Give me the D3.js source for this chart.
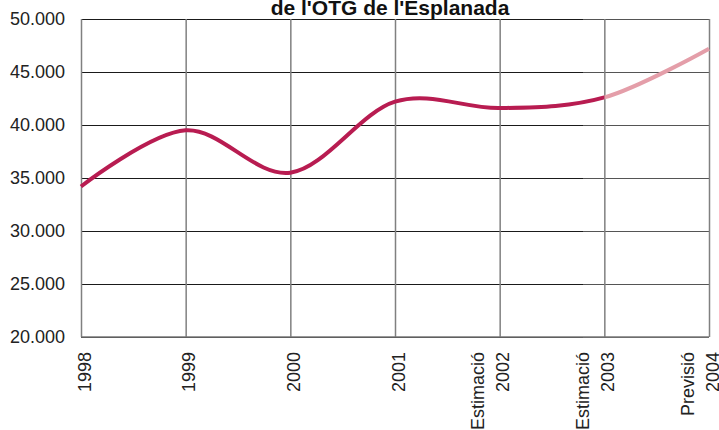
<!DOCTYPE html>
<html>
<head>
<meta charset="utf-8">
<script src="https://cdn.jsdelivr.net/npm/d3@7"></script>
<style>
  html, body { margin: 0; padding: 0; background: #fff; }
  svg { display: block; font-family: "Liberation Sans", Arial, Helvetica, sans-serif; }
</style>
</head>
<body>
<svg id="chart" width="719" height="430"></svg>
<script>
// Visitants a l'OTG de l'Esplanada, 1998-2004
const years = ["1998", "1999", "2000", "2001", "2002", "2003", "2004"];
const yearNotes = ["", "", "", "", "Estimació", "Estimació", "Previsió"];
const visitors = [34200, 39500, 35500, 42200, 41600, 42600, 47200];
const yTicks = [20000, 25000, 30000, 35000, 40000, 45000, 50000];
const forecastFrom = "2003";
const titleText = "de l'OTG de l'Esplanada";

const svg = d3.select("#chart");
const margin = { left: 81, right: 10, top: 19, bottom: 93 };
const W = 719, H = 430;
const innerW = W - margin.left - margin.right;
const innerH = H - margin.top - margin.bottom;

const x = d3.scalePoint().domain(years).range([0, innerW]);
const y = d3.scaleLinear().domain([20000, 50000]).range([innerH, 0]);

const caLocale = d3.formatLocale({ decimal: ",", thousands: ".", grouping: [3], currency: ["", " €"] });
const fmt = caLocale.format(",.0f");

const defs = svg.append("defs");
// gridlines fade from black to dark grey towards the right
const grad = defs.append("linearGradient").attr("id", "grid-stroke")
  .attr("gradientUnits", "userSpaceOnUse")
  .attr("x1", 0).attr("x2", innerW).attr("y1", 0).attr("y2", 0);
grad.append("stop").attr("offset", 0.8).attr("stop-color", "#1a1a1a");
grad.append("stop").attr("offset", 0.8).attr("stop-color", "#555");

const g = svg.append("g").attr("transform", `translate(${margin.left},${margin.top})`);

// horizontal gridlines + y labels
const yAxis = g.append("g")
  .call(d3.axisLeft(y).tickValues(yTicks).tickFormat(fmt).tickSize(-innerW).tickPadding(16));
yAxis.select(".domain").remove();
yAxis.selectAll(".tick line").attr("stroke", "url(#grid-stroke)").attr("stroke-width", 1);
yAxis.selectAll(".tick text")
  .attr("font-size", 18).attr("fill", "#222")
  .attr("font-family", "Liberation Sans, Arial, sans-serif");

// vertical gridlines
const xAxis = g.append("g").attr("transform", `translate(0,${innerH})`)
  .call(d3.axisBottom(x).tickSize(-innerH).tickFormat(""));
xAxis.select(".domain").remove();
xAxis.selectAll(".tick line").attr("stroke", "#808080").attr("stroke-width", 1.5);

// bottom axis line
g.append("line")
  .attr("x1", 0).attr("x2", innerW)
  .attr("y1", y(20000)).attr("y2", y(20000))
  .attr("stroke", "#777").attr("stroke-width", 1.5);

// rotated category labels (note above, year below)
const labels = xAxis.selectAll(".tick").append("g")
  .attr("transform", "translate(3,15) rotate(-90)");
labels.append("text")
  .attr("text-anchor", "end")
  .attr("dy", "0.35em")
  .attr("font-size", 18).attr("fill", "#222")
  .text(d => d);
labels.append("text")
  .attr("text-anchor", "end")
  .attr("dy", "0.35em")
  .attr("y", -25)
  .attr("font-size", 18).attr("fill", "#222")
  .text(d => yearNotes[years.indexOf(d)]);

// line: observed part dark, forecast part light
const pts = years.map((yr, i) => [x(yr), y(visitors[i])]);
const line = d3.line().curve(d3.curveCardinal.tension(0));
const xf = x(forecastFrom);

defs.append("clipPath").attr("id", "clip-obs")
  .append("rect").attr("x", -10).attr("y", -30).attr("width", xf + 10).attr("height", innerH + 60);
defs.append("clipPath").attr("id", "clip-fc")
  .append("rect").attr("x", xf).attr("y", -30).attr("width", innerW - xf + 10).attr("height", innerH + 60);

g.append("path")
  .attr("d", line(pts))
  .attr("fill", "none")
  .attr("stroke", "#e49ea9")
  .attr("stroke-width", 4)
  .attr("clip-path", "url(#clip-fc)");
g.append("path")
  .attr("d", line(pts))
  .attr("fill", "none")
  .attr("stroke", "#b81c51")
  .attr("stroke-width", 4)
  .attr("clip-path", "url(#clip-obs)");

// title (second line)
svg.append("text")
  .attr("x", 390).attr("y", 15)
  .attr("text-anchor", "middle")
  .attr("font-size", 21).attr("font-weight", "bold").attr("fill", "#111")
  .text(titleText);
</script>
</body>
</html>
